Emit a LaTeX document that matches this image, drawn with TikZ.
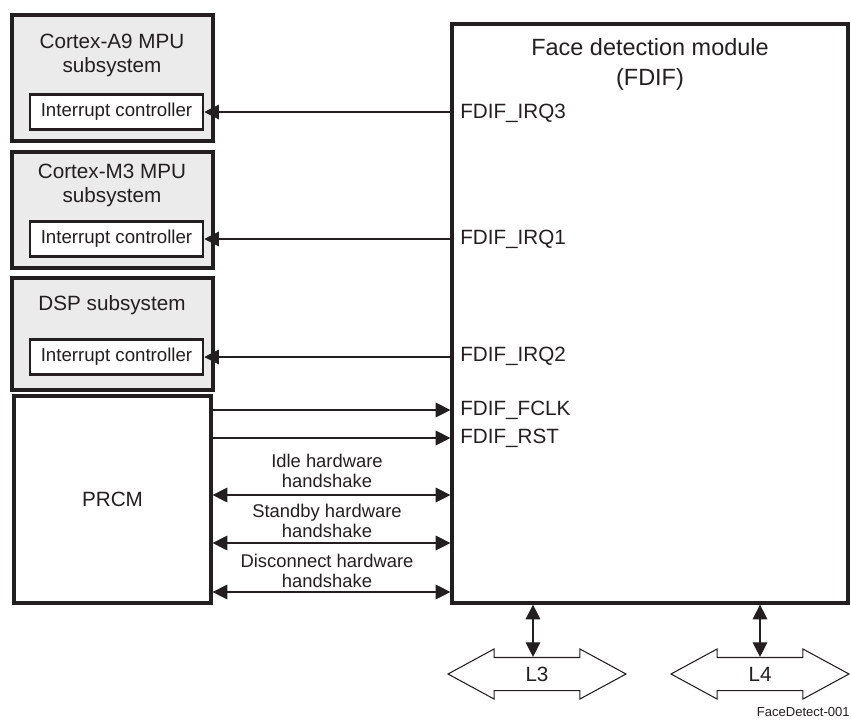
\documentclass[tikz,border=0pt]{standalone}
\usepackage{fontspec}
\setmainfont{Liberation Sans}
\usetikzlibrary{arrows.meta,shapes.arrows}
\definecolor{ink}{HTML}{231F20}
\definecolor{subfill}{HTML}{EBEBEB}
\begin{document}
\begin{tikzpicture}[x=0.75pt,y=-0.75pt,
    every node/.style={text=ink},
    outerbox/.style={draw=ink, line width=2.4pt, inner sep=0pt},
    subsys/.style={outerbox, fill=subfill, minimum width=150.75pt},
    intbox/.style={draw=ink, line width=1.9pt, fill=white, minimum width=129.75pt,
        minimum height=26.25pt, inner sep=0pt, font=\fontsize{14}{16}\selectfont},
    bigtext/.style={align=center, font=\fontsize{15.5}{18}\selectfont},
    pintext/.style={anchor=west, inner sep=0pt, font=\fontsize{15.5}{18}\selectfont},
    hstext/.style={align=center, inner sep=0pt, font=\fontsize{13.8}{15}\selectfont},
    sig/.style={draw=ink, line width=0.8pt, -{Triangle[length=11pt,width=11pt]}},
    bisig/.style={draw=ink, line width=0.8pt, {Triangle[length=11pt,width=11pt]}-{Triangle[length=11pt,width=11pt]}},
    busarrow/.style={double arrow, draw=ink, line width=0.8pt, minimum height=133.5pt,
        double arrow head extend=6.4pt, double arrow tip angle=57, inner xsep=0pt,
        inner ysep=6.5pt, text height=11pt, text depth=0pt,
        font=\fontsize{15.5}{18}\selectfont}]
    \useasboundingbox (0,0) rectangle (851,719);
    % Subsystems with interrupt controllers
    \node[subsys, minimum height=94.5pt] (a9) at (112.5,78) {};
    \node[bigtext] (a9title) at (112,55) {Cortex-A9 MPU\\subsystem};
    \node[intbox] (ica9) at (116.5,112) {Interrupt controller};
    \node[subsys, minimum height=87pt] (m3) at (112.5,210) {};
    \node[bigtext] (m3title) at (112,185) {Cortex-M3 MPU\\subsystem};
    \node[intbox] (icm3) at (116.5,239) {Interrupt controller};
    \node[subsys, minimum height=84pt] (dsp) at (112.5,334) {};
    \node[bigtext] (dsptitle) at (112,305) {DSP subsystem};
    \node[intbox] (icdsp) at (116.5,357) {Interrupt controller};
    % PRCM
    \node[outerbox, minimum width=147.75pt, minimum height=155.25pt,
        font=\fontsize{15.5}{18}\selectfont] (prcm) at (112.5,499.5) {PRCM};
    % Face detection module
    \node[outerbox, minimum width=297pt, minimum height=434.25pt] (fdif) at (650,313.5) {};
    \node[align=center, font=\fontsize{17.6}{22.5}\selectfont] (fdiftitle) at (650,64)
        {Face detection module\\(FDIF)};
    \node[pintext] (irq3) at (460,113) {FDIF\_IRQ3};
    \node[pintext] (irq1) at (460,239) {FDIF\_IRQ1};
    \node[pintext] (irq2) at (460,356) {FDIF\_IRQ2};
    \node[pintext] (fclk) at (460,410) {FDIF\_FCLK};
    \node[pintext] (rst) at (460,438) {FDIF\_RST};
    % Interrupt lines
    \draw[sig] (ica9.east -| fdif.west) -- (ica9.east);
    \draw[sig] (icm3.east -| fdif.west) -- (icm3.east);
    \draw[sig] (icdsp.east -| fdif.west) -- (icdsp.east);
    % Clock and reset
    \draw[sig] (prcm.east |- fclk.west) -- (fclk.west -| fdif.west);
    \draw[sig] (prcm.east |- rst.west) -- (rst.west -| fdif.west);
    % Handshakes
    \coordinate (hsidle) at (330,495);
    \coordinate (hsstby) at (330,543);
    \coordinate (hsdisc) at (330,592);
    \node[hstext] (idle) at (327,471) {Idle hardware\\handshake};
    \node[hstext] (stby) at (327,521) {Standby hardware\\handshake};
    \node[hstext] (disc) at (327,570.5) {Disconnect hardware\\handshake};
    \draw[bisig] (prcm.east |- hsidle) -- (fdif.west |- hsidle);
    \draw[bisig] (prcm.east |- hsstby) -- (fdif.west |- hsstby);
    \draw[bisig] (prcm.east |- hsdisc) -- (fdif.west |- hsdisc);
    % Interconnects
    \node[busarrow] (l3) at (537,674) {L3};
    \node[busarrow] (l4) at (760,674) {L4};
    \draw[bisig] ([xshift=-3pt]l3.north |- fdif.south) -- ([xshift=-3pt]l3.north);
    \draw[bisig] (l4.north |- fdif.south) -- (l4.north);
    \node[anchor=east, inner sep=0pt, font=\fontsize{9.8}{11}\selectfont] (figid) at (850,712) {FaceDetect-001};
\end{tikzpicture}
\end{document}
